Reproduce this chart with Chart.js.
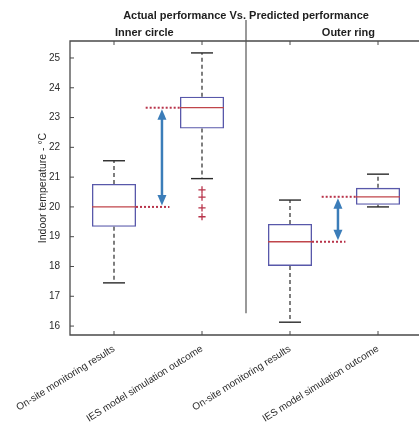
<!DOCTYPE html>
<html><head><meta charset="utf-8">
<script src="https://cdn.jsdelivr.net/npm/chart.js@4"></script>
<style>html,body{margin:0;padding:0;background:#fff;overflow:hidden}#wrap{width:430px;height:431px}</style>
</head><body><div id="wrap"><canvas id="c" width="430" height="431"></canvas></div>
<script>
// ---- data ----
const categories = ['On-site monitoring results', 'IES model simulation outcome', 'On-site monitoring results', 'IES model simulation outcome'];
const groups = ['Inner circle', 'Outer ring'];
const q1 = [19.33, 22.63, 18.02, 20.07];
const median = [20.0, 23.33, 18.83, 20.34];
const q3 = [20.77, 23.70, 19.43, 20.64];
const whiskerLow = [17.45, 20.95, 16.13, 20.0];
const whiskerHigh = [21.55, 25.17, 20.23, 21.10];
const outliers = [[], [20.57, 20.33, 19.97, 19.67], [], []];
const yTicks = [16, 17, 18, 19, 20, 21, 22, 23, 24, 25];
const chartTitle = 'Actual performance Vs. Predicted performance';
const yTitle = 'Indoor temperature - °C';

// ---- build datasets ----
const maxOut = Math.max(...outliers.map(o => o.length));
const outlierSets = [];
for (let k = 0; k < maxOut; k++) {
  outlierSets.push({
    type: 'line', showLine: false,
    data: categories.map((_, i) => outliers[i][k] !== undefined ? outliers[i][k] : null),
    pointStyle: 'cross', pointRadius: 3.6, borderColor: '#b8334a', borderWidth: 1.3,
    backgroundColor: '#b8334a'
  });
}

const FONT = '"Liberation Sans", Arial, sans-serif';

const overlay = {
  id: 'overlay',
  afterDatasetsDraw(chart) {
    const { ctx, chartArea: a, scales: { x, y } } = chart;
    const cw = x.getPixelForValue(1) - x.getPixelForValue(0);
    const half = cw * 0.25;
    const ln = (x1, y1, x2, y2) => { ctx.beginPath(); ctx.moveTo(x1, y1); ctx.lineTo(x2, y2); ctx.stroke(); };
    ctx.save();
    // whiskers, caps, medians
    categories.forEach((_, i) => {
      const cx = x.getPixelForValue(i);
      ctx.strokeStyle = '#2a2a2a'; ctx.lineWidth = 1.2; ctx.setLineDash([4, 3]);
      ln(cx, y.getPixelForValue(q3[i]), cx, y.getPixelForValue(whiskerHigh[i]));
      ln(cx, y.getPixelForValue(q1[i]), cx, y.getPixelForValue(whiskerLow[i]));
      ctx.setLineDash([]); ctx.lineWidth = 1.4;
      ln(cx - half / 2, y.getPixelForValue(whiskerHigh[i]), cx + half / 2, y.getPixelForValue(whiskerHigh[i]));
      ln(cx - half / 2, y.getPixelForValue(whiskerLow[i]), cx + half / 2, y.getPixelForValue(whiskerLow[i]));
      ctx.strokeStyle = '#c0454a'; ctx.lineWidth = 1.3;
      ln(cx - half, y.getPixelForValue(median[i]), cx + half, y.getPixelForValue(median[i]));
    });
    // dotted median references + arrows
    for (let g = 0; g < 2; g++) {
      const ia = g * 2, ib = g * 2 + 1;
      const xa = x.getPixelForValue(ia), xb = x.getPixelForValue(ib);
      const ya = y.getPixelForValue(median[ia]), yb = y.getPixelForValue(median[ib]);
      ctx.strokeStyle = '#b8334a'; ctx.lineWidth = 2; ctx.setLineDash([2, 2]);
      ln(xa + half, ya, xa + cw * 0.63, ya);
      ln(xb - cw * 0.64, yb, xb - half, yb);
      ctx.setLineDash([]);
      const ax = xa + cw * 0.545;
      const top = yb + 1.5, bot = ya - 1.5;
      ctx.strokeStyle = '#3b7db9'; ctx.fillStyle = '#3b7db9'; ctx.lineWidth = 2.5;
      ln(ax, top + 8, ax, bot - 8);
      ctx.beginPath(); ctx.moveTo(ax, top); ctx.lineTo(ax - 4.5, top + 10.5); ctx.lineTo(ax + 4.5, top + 10.5); ctx.closePath(); ctx.fill();
      ctx.beginPath(); ctx.moveTo(ax, bot); ctx.lineTo(ax - 4.5, bot - 10.5); ctx.lineTo(ax + 4.5, bot - 10.5); ctx.closePath(); ctx.fill();
    }
    // frame
    ctx.strokeStyle = '#4a4a4a'; ctx.lineWidth = 1.3;
    ctx.beginPath();
    ctx.moveTo(a.right + 5, a.top); ctx.lineTo(a.left, a.top); ctx.lineTo(a.left, a.bottom); ctx.lineTo(a.right + 5, a.bottom);
    ctx.stroke();
    ctx.lineWidth = 1;
    yTicks.forEach(v => { const py = y.getPixelForValue(v); ln(a.left, py, a.left + 4, py); });
    categories.forEach((_, i) => {
      const px = x.getPixelForValue(i);
      ln(px, a.bottom, px, a.bottom - 4);
      ln(px, a.top, px, a.top + 4);
    });
    // separator
    const sx = (x.getPixelForValue(1) + x.getPixelForValue(2)) / 2;
    ctx.strokeStyle = '#555'; ctx.lineWidth = 1.2;
    ln(sx, a.top - 21, sx, y.getPixelForValue(16.43));
    // titles
    ctx.fillStyle = '#1e1e1e';
    ctx.font = 'bold 11px ' + FONT;
    ctx.textBaseline = 'alphabetic';
    ctx.textAlign = 'center';
    ctx.fillText(chartTitle, sx, a.top - 22);
    ctx.textAlign = 'left';
    ctx.fillText(groups[0], x.getPixelForValue(0) + 1, a.top - 5);
    ctx.textAlign = 'right';
    ctx.fillText(groups[1], x.getPixelForValue(3) - 3, a.top - 5);
    // y title
    ctx.save();
    ctx.translate(43, (a.top + a.bottom) / 2);
    ctx.rotate(-Math.PI / 2);
    ctx.textAlign = 'center'; ctx.textBaseline = 'middle';
    ctx.font = '10.5px ' + FONT; ctx.fillStyle = '#2a2a2a';
    ctx.fillText(yTitle, 0, 0);
    ctx.restore();
    ctx.restore();
  }
};

new Chart(document.getElementById('c'), {
  type: 'bar',
  data: {
    labels: categories,
    datasets: [{
      type: 'bar',
      data: q1.map((v, i) => [v, q3[i]]),
      backgroundColor: 'rgba(255,255,255,0)',
      borderColor: '#5858aa', borderWidth: 1.3, borderSkipped: false,
      barPercentage: 0.5, categoryPercentage: 1
    }, ...outlierSets]
  },
  options: {
    responsive: false, animation: false,
    layout: { padding: { top: 41, right: 8, left: 0, bottom: 0 } },
    plugins: { legend: { display: false }, tooltip: { enabled: false }, title: { display: false } },
    scales: {
      x: {
        grid: { display: false, drawTicks: false }, border: { display: false },
        ticks: { minRotation: 32, maxRotation: 32, autoSkip: false, padding: 8,
                 font: { size: 10, family: FONT }, color: '#2a2a2a' },
        afterFit(s) { s.height = 96; }
      },
      y: {
        min: 15.7, max: 25.57,
        grid: { display: false, drawTicks: false }, border: { display: false },
        afterBuildTicks(s) { s.ticks = yTicks.map(v => ({ value: v })); },
        ticks: { padding: 10, font: { size: 10, family: FONT }, color: '#2a2a2a' },
        afterFit(s) { s.width = 70; }
      }
    }
  },
  plugins: [overlay]
});
</script></body></html>
